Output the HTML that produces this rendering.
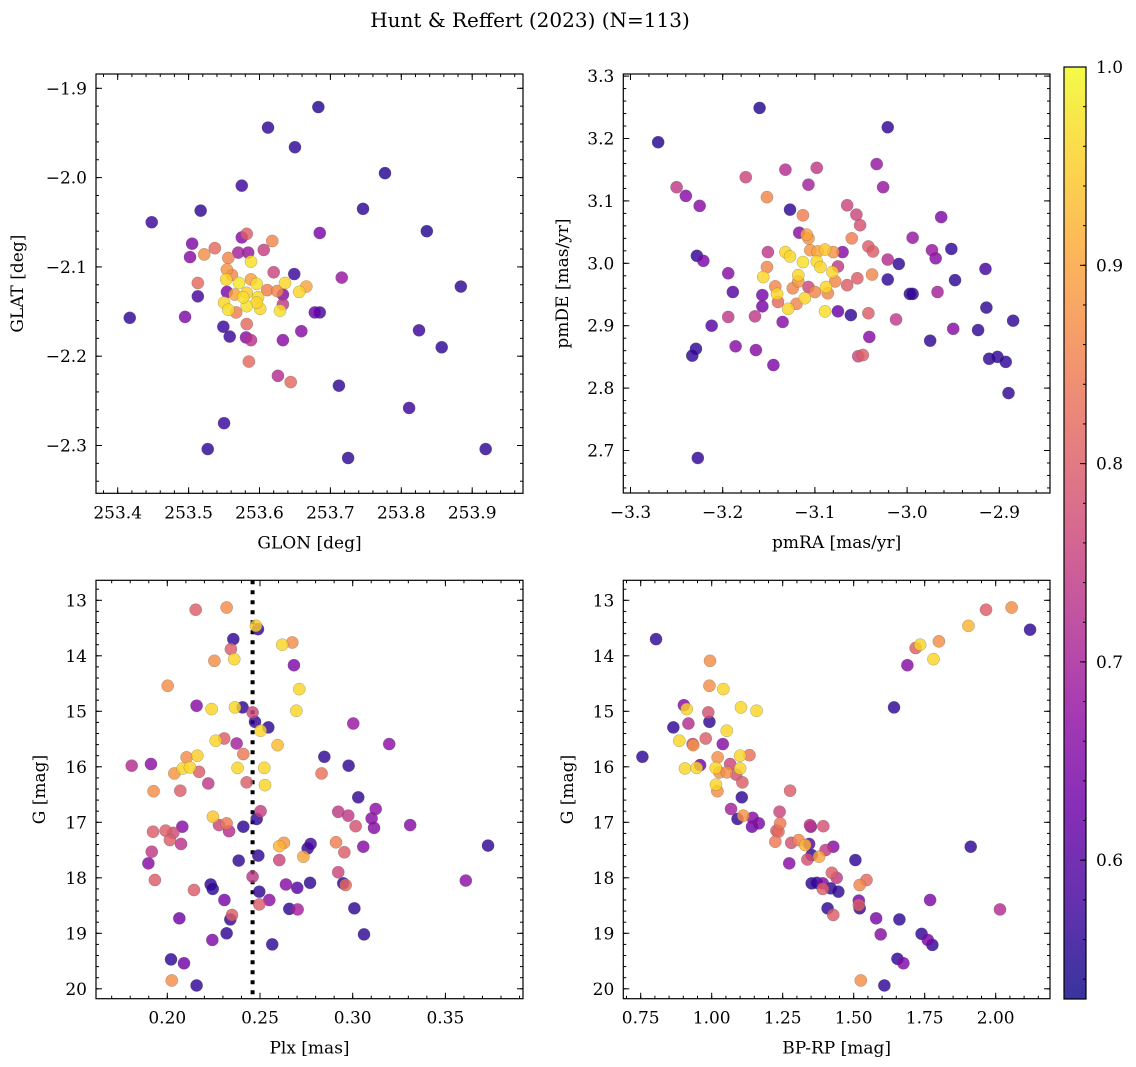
<!DOCTYPE html>
<html><head><meta charset="utf-8"><title>Hunt & Reffert (2023)</title>
<style>
html,body{margin:0;padding:0;background:#fff;}
svg{display:block;font-family:"DejaVu Serif","Liberation Serif",serif;}
</style></head>
<body>
<svg id="fig" width="1136" height="1067" viewBox="0 0 1136 1067" xmlns="http://www.w3.org/2000/svg">
<text x="530" y="27" text-anchor="middle" font-size="20">Hunt &amp; Reffert (2023) (N=113)</text>
</svg>
<script>
// ---------- Panel 1: GLON vs GLAT ----------
const p1x = [253.683,253.612,253.650,253.575,253.777,253.746,253.448,253.517,253.836,253.417,253.716,253.884,253.825,253.857,253.626,253.644,253.712,253.811,253.550,253.527,253.725,253.919,
253.505,253.502,253.522,253.537,253.575,253.582,253.618,253.606,253.584,253.570,253.556,253.588,253.620,253.649,253.554,253.553,253.571,253.596,253.588,253.561,253.636,253.666,253.656,253.625,253.611,253.582,253.565,253.598,253.554,253.633,253.633,253.629,253.601,253.582,253.556,253.550,253.567,253.685,253.678,253.513,253.513,253.495,253.549,253.558,253.582,253.581,253.588,253.633,253.659,253.585,253.577,253.596,253.685];
const p1y = [-1.921,-1.944,-1.966,-2.009,-1.995,-2.035,-2.050,-2.037,-2.060,-2.157,-2.112,-2.122,-2.171,-2.190,-2.222,-2.229,-2.233,-2.258,-2.275,-2.304,-2.314,-2.304,
-2.074,-2.089,-2.086,-2.079,-2.067,-2.063,-2.071,-2.081,-2.084,-2.084,-2.090,-2.094,-2.106,-2.108,-2.103,-2.114,-2.118,-2.119,-2.114,-2.109,-2.118,-2.122,-2.128,-2.127,-2.126,-2.129,-2.131,-2.134,-2.128,-2.131,-2.142,-2.149,-2.147,-2.144,-2.148,-2.140,-2.151,-2.151,-2.151,-2.118,-2.133,-2.156,-2.167,-2.178,-2.164,-2.179,-2.182,-2.182,-2.172,-2.206,-2.134,-2.140,-2.062];
const p1c = [0.55,0.56,0.56,0.57,0.55,0.56,0.57,0.56,0.55,0.56,0.68,0.56,0.57,0.56,0.72,0.82,0.56,0.57,0.57,0.56,0.56,0.56,
0.65,0.66,0.87,0.82,0.66,0.80,0.86,0.75,0.68,0.70,0.86,0.97,0.76,0.57,0.88,0.96,0.98,0.97,0.89,0.86,0.96,0.90,0.96,0.86,0.85,0.95,0.90,0.96,0.65,0.66,0.74,0.97,0.96,0.97,0.97,0.96,0.85,0.58,0.62,0.82,0.58,0.65,0.57,0.57,0.82,0.66,0.73,0.66,0.66,0.82,0.97,0.96,0.64];
const p1xTicks = [253.4,253.5,253.6,253.7,253.8,253.9];
const p1xTickLabels = ["253.4","253.5","253.6","253.7","253.8","253.9"];
const p1yTicks = [-1.9,-2.0,-2.1,-2.2,-2.3];
const p1yTickLabels = ["\u22121.9","\u22122.0","\u22122.1","\u22122.2","\u22122.3"];

// ---------- Panel 2: pmRA vs pmDE ----------
const p2x = [-3.270,-3.160,-3.021,-3.250,-3.240,-3.225,-3.175,-3.152,-3.228,-3.221,-3.212,-3.229,-3.233,-3.186,-3.164,-3.227,-3.145,-3.098,-3.107,-3.132,-3.033,-3.026,-2.994,-2.963,-2.973,-2.969,-2.952,-2.967,-2.948,-3.009,-2.997,-2.994,-3.012,-2.975,-2.950,-2.923,-2.915,-2.914,-2.911,-2.902,-2.893,-2.885,-2.890,-3.194,-3.189,-3.194,-3.041,-3.048,-3.053,
-3.127,-3.113,-3.065,-3.055,-3.051,-3.060,-3.042,-3.037,-3.021,-3.117,-3.109,-3.107,-3.151,-3.132,-3.127,-3.105,-3.097,-3.089,-3.080,-3.070,-3.113,-3.098,-3.094,-3.075,-3.081,-3.078,-3.152,-3.156,-3.118,-3.118,-3.143,-3.141,-3.124,-3.107,-3.100,-3.088,-3.086,-3.065,-3.054,-3.038,-3.021,-3.157,-3.157,-3.140,-3.111,-3.120,-3.129,-3.089,-3.075,-3.061,-3.042,-3.135,-3.165];
const p2y = [3.194,3.249,3.218,3.122,3.108,3.092,3.138,3.106,3.012,3.004,2.900,2.863,2.852,2.867,2.861,2.688,2.837,3.153,3.126,3.150,3.159,3.122,3.041,3.074,3.021,3.008,3.023,2.954,2.973,2.999,2.951,2.951,2.910,2.876,2.895,2.893,2.991,2.929,2.847,2.850,2.842,2.908,2.792,2.984,2.954,2.914,2.882,2.853,2.851,
3.086,3.077,3.093,3.078,3.061,3.040,3.027,3.019,3.006,3.049,3.046,3.040,3.018,3.018,3.011,3.021,3.019,3.022,3.018,3.018,3.002,3.003,2.994,2.995,2.986,2.971,2.994,2.978,2.981,2.971,2.963,2.951,2.960,2.962,2.954,2.962,2.952,2.965,2.976,2.982,2.974,2.949,2.931,2.938,2.944,2.935,2.927,2.923,2.923,2.917,2.920,2.906,2.915];
const p2c = [0.55,0.55,0.56,0.74,0.66,0.66,0.76,0.86,0.56,0.64,0.60,0.56,0.56,0.66,0.66,0.56,0.65,0.74,0.70,0.72,0.68,0.68,0.68,0.65,0.68,0.66,0.56,0.70,0.56,0.56,0.56,0.56,0.74,0.56,0.66,0.56,0.58,0.56,0.56,0.56,0.56,0.56,0.56,0.66,0.60,0.74,0.66,0.80,0.76,
0.56,0.85,0.76,0.76,0.78,0.85,0.80,0.80,0.72,0.66,0.90,0.88,0.74,0.96,0.96,0.88,0.90,0.94,0.88,0.66,0.97,0.96,0.96,0.74,0.96,0.86,0.86,0.96,0.96,0.88,0.86,0.96,0.86,0.76,0.86,0.96,0.86,0.80,0.80,0.86,0.56,0.64,0.64,0.82,0.96,0.86,0.96,0.97,0.62,0.56,0.80,0.66,0.74];
const p2xTicks = [-3.3,-3.2,-3.1,-3.0,-2.9];
const p2xTickLabels = ["\u22123.3","\u22123.2","\u22123.1","\u22123.0","\u22122.9"];
const p2yTicks = [3.3,3.2,3.1,3.0,2.9,2.8,2.7];
const p2yTickLabels = ["3.3","3.2","3.1","3.0","2.9","2.8","2.7"];

// ---------- Panel 3: Plx vs G ----------
const p3x = [0.2153,0.2320,0.2478,0.2489,0.2356,0.2343,0.2254,0.2361,0.2620,0.2674,0.2683,0.2002,0.2712,0.2158,0.2239,0.2365,0.2406,0.2460,0.2473,0.2545,0.2503,0.2696,0.3003,0.3197,0.2261,0.2307,0.2374,0.2595,0.2410,0.2104,0.2162,0.1808,0.1912,0.2038,0.2083,0.2122,0.2171,0.2379,0.2523,0.2527,0.2428,0.2221,0.1926,0.2070,0.2847,0.2978,0.2832,0.3030,0.2922,0.2976,0.3016,0.3124,0.3102,0.3115,0.2503,0.2482,0.2246,0.2279,0.2320,0.2333,0.2410,0.1923,0.1991,0.2032,0.2081,0.2014,0.2074,0.1916,0.1898,0.1933,0.2604,0.2629,0.2604,0.2491,0.2385,0.2757,0.2773,0.2734,0.2910,0.2955,0.3057,0.2922,0.2949,0.2962,0.2460,0.2496,0.2496,0.2550,0.2640,0.2701,0.2770,0.2658,0.2703,0.3009,0.3061,0.2234,0.2245,0.2144,0.2308,0.2349,0.2340,0.2320,0.2243,0.2065,0.2566,0.2020,0.2090,0.2024,0.2158,0.373,0.361,0.331];
const p3y = [13.17,13.13,13.46,13.52,13.70,13.88,14.09,14.06,13.80,13.76,14.17,14.54,14.60,14.90,14.96,14.93,14.93,15.02,15.19,15.29,15.35,14.99,15.22,15.59,15.53,15.49,15.58,15.61,15.77,15.83,15.80,15.98,15.95,16.12,16.03,16.01,16.09,16.02,16.02,16.33,16.28,16.30,16.44,16.43,15.82,15.98,16.12,16.55,16.81,16.88,17.07,16.76,16.93,17.10,16.80,16.94,16.90,17.05,17.02,17.16,17.08,17.17,17.15,17.19,17.08,17.32,17.39,17.53,17.74,18.04,17.43,17.37,17.68,17.60,17.69,17.47,17.39,17.62,17.36,17.54,17.44,17.90,18.10,18.13,17.98,18.25,18.48,18.40,18.12,18.18,18.09,18.56,18.57,18.55,19.02,18.12,18.20,18.22,18.40,18.67,18.75,19.00,19.12,18.73,19.20,19.47,19.54,19.85,19.94,17.42,18.05,17.05];
const p3c = [0.80,0.87,0.95,0.56,0.56,0.80,0.87,0.96,0.96,0.87,0.65,0.87,0.96,0.66,0.96,0.96,0.56,0.76,0.56,0.56,0.96,0.96,0.68,0.67,0.96,0.80,0.70,0.93,0.84,0.87,0.95,0.72,0.67,0.88,0.96,0.96,0.80,0.96,0.96,0.96,0.80,0.74,0.87,0.80,0.56,0.56,0.83,0.56,0.74,0.74,0.78,0.67,0.66,0.66,0.75,0.56,0.94,0.76,0.84,0.72,0.56,0.80,0.80,0.77,0.66,0.80,0.73,0.74,0.66,0.80,0.92,0.88,0.76,0.56,0.56,0.56,0.58,0.90,0.85,0.80,0.66,0.76,0.56,0.82,0.74,0.56,0.80,0.67,0.66,0.60,0.56,0.56,0.70,0.56,0.56,0.56,0.56,0.80,0.64,0.80,0.56,0.56,0.65,0.63,0.56,0.56,0.63,0.87,0.56,0.56,0.67,0.66];
const p3xTicks = [0.20,0.25,0.30,0.35];
const p3xTickLabels = ["0.20","0.25","0.30","0.35"];
const gTicks = [13,14,15,16,17,18,19,20];
const gTickLabels = ["13","14","15","16","17","18","19","20"];
const plxLine = [0.246];

// ---------- Panel 4: BP-RP vs G ----------
const p4x = [0.804,0.994,0.992,1.041,0.902,0.912,0.865,0.918,0.988,0.992,1.103,1.158,1.053,0.886,0.933,0.935,0.979,1.039,0.756,0.906,0.947,0.959,1.021,1.014,1.027,1.053,1.065,1.086,1.100,1.133,1.100,1.015,1.020,1.108,1.106,1.276,1.068,1.091,1.111,1.144,1.166,1.142,1.239,1.241,1.228,1.235,1.224,1.280,1.306,1.329,1.343,1.346,1.349,1.393,1.273,1.337,1.352,1.378,1.401,1.428,1.506,1.352,1.370,1.391,1.391,1.423,1.440,1.419,1.446,1.521,1.545,1.518,1.518,1.521,1.408,1.428,1.579,1.595,1.661,1.739,1.761,1.777,1.769,2.015,1.912,1.654,1.675,1.525,1.608,1.642,1.689,1.718,1.734,1.800,1.781,1.904,1.966,2.056,2.121];
const p4y = [13.70,14.09,14.54,14.60,14.89,14.96,15.29,15.22,15.02,15.19,14.93,14.99,15.35,15.53,15.59,15.61,15.49,15.59,15.82,16.03,16.02,15.97,15.83,16.02,16.10,16.10,15.95,16.14,15.80,15.79,16.03,16.32,16.44,16.28,16.55,16.43,16.76,16.94,16.88,16.92,17.02,17.08,16.81,17.02,17.15,17.17,17.35,17.37,17.32,17.41,17.39,17.05,17.08,17.07,17.74,17.67,17.59,17.62,17.50,17.44,17.68,18.10,18.09,18.10,18.20,17.91,18.00,18.19,18.25,18.13,18.04,18.41,18.49,18.55,18.55,18.67,18.73,19.02,18.75,19.01,19.12,19.21,18.40,18.57,17.44,19.46,19.54,19.85,19.94,14.93,14.17,13.86,13.80,13.74,14.06,13.46,13.17,13.13,13.53];
const p4c = [0.56,0.87,0.87,0.96,0.66,0.96,0.56,0.72,0.78,0.56,0.96,0.96,0.96,0.96,0.74,0.88,0.80,0.66,0.56,0.96,0.96,0.63,0.87,0.96,0.87,0.87,0.76,0.78,0.96,0.83,0.96,0.96,0.87,0.80,0.56,0.80,0.70,0.56,0.88,0.66,0.65,0.63,0.76,0.84,0.80,0.82,0.84,0.78,0.86,0.92,0.60,0.74,0.66,0.78,0.66,0.78,0.56,0.90,0.74,0.66,0.56,0.56,0.56,0.65,0.80,0.80,0.74,0.56,0.56,0.86,0.82,0.64,0.80,0.56,0.56,0.80,0.64,0.66,0.56,0.56,0.64,0.56,0.65,0.72,0.56,0.56,0.65,0.87,0.56,0.56,0.66,0.80,0.96,0.87,0.96,0.92,0.80,0.87,0.56];
const p4xTicks = [0.75,1.00,1.25,1.50,1.75,2.00];
const p4xTickLabels = ["0.75","1.00","1.25","1.50","1.75","2.00"];

// ---------- Colorbar ----------
const cbarTicks = [0.6,0.7,0.8,0.9,1.0];
const cbarTickLabels = ["0.6","0.7","0.8","0.9","1.0"];
const cMin = 0.53, cMax = 1.0;

const NS = "http://www.w3.org/2000/svg";
const svg = document.getElementById('fig');
const FS = 17;
function mk(tag, attrs, parent){
  const e = document.createElementNS(NS, tag);
  for (const k in attrs) e.setAttribute(k, attrs[k]);
  (parent||svg).appendChild(e);
  return e;
}
const plasma = [[13,8,135],[65,4,157],[106,0,168],[143,13,164],[177,42,144],[204,71,120],[225,100,98],[242,132,75],[252,166,54],[252,206,37],[240,249,33]];
function cmap(v){
  let t = (v - cMin)/(cMax - cMin); t = Math.max(0, Math.min(1, t));
  const f = t*10, i = Math.min(9, Math.floor(f)), r = f - i;
  const a = plasma[i], b = plasma[i+1];
  return 'rgb(' + [0,1,2].map(k => Math.round(a[k]+(b[k]-a[k])*r)).join(',') + ')';
}
function lin(d0,d1,r0,r1){ return v => r0 + (v-d0)/(d1-d0)*(r1-r0); }
function fmtMinor(start, end, step){ const out=[]; const n=Math.round((end-start)/step); for(let i=0;i<=n;i++) out.push(start+i*step); return out; }

function panel(cfg){
  const g = mk('g', {});
  
  
  const X = lin(cfg.xd[0], cfg.xd[1], cfg.L, cfg.R);
  const Y = lin(cfg.yd[0], cfg.yd[1], cfg.B, cfg.T);
  const cid = 'clip-' + cfg.name;
  const cp = mk('clipPath', {id: cid}, g);
  mk('rect', {x: cfg.L, y: cfg.T, width: cfg.R-cfg.L, height: cfg.B-cfg.T}, cp);
  const pts = mk('g', {'clip-path': 'url(#'+cid+')'}, g);
  
  
  if (cfg.vline) {
    cfg.vline.forEach(v => {
      const ln = mk('line', {x1: X(v), x2: X(v), y1: cfg.T, y2: cfg.B, stroke: '#000', 'stroke-width': 4, 'stroke-dasharray': '4 6'}, pts);
      
      
    });
  }
  const idx = cfg.xs.map((_, i) => i).sort((a, b) => cfg.cs[a] - cfg.cs[b]);
  idx.forEach(i => {
    const c = mk('circle', {cx: X(cfg.xs[i]).toFixed(2), cy: Y(cfg.ys[i]).toFixed(2), r: 6.1, fill: cmap(cfg.cs[i]), 'fill-opacity': 0.82, stroke: '#555', 'stroke-width': 0.4, 'stroke-opacity': 0.6}, pts);
    
    
  });
  const fr = mk('rect', {x: cfg.L, y: cfg.T, width: cfg.R-cfg.L, height: cfg.B-cfg.T, fill: 'none', stroke: '#000', 'stroke-width': 1.2}, g);
  
  
  const tk = mk('g', {stroke: '#000', 'stroke-width': 1}, g);
  cfg.xMinor.forEach(v => { const x = X(v); if (x < cfg.L-0.5 || x > cfg.R+0.5) return;
    mk('line', {x1: x, x2: x, y1: cfg.B, y2: cfg.B-3}, tk); mk('line', {x1: x, x2: x, y1: cfg.T, y2: cfg.T+3}, tk); });
  cfg.yMinor.forEach(v => { const y = Y(v); if (y < cfg.T-0.5 || y > cfg.B+0.5) return;
    mk('line', {x1: cfg.L, x2: cfg.L+3, y1: y, y2: y}, tk); mk('line', {x1: cfg.R, x2: cfg.R-3, y1: y, y2: y}, tk); });
  cfg.xTicks.forEach((v, i) => { const x = X(v);
    mk('line', {x1: x, x2: x, y1: cfg.B, y2: cfg.B-6}, tk); mk('line', {x1: x, x2: x, y1: cfg.T, y2: cfg.T+6}, tk);
    const t = mk('text', {x: x, y: cfg.B+25, 'text-anchor': 'middle', 'font-size': FS}, g);
    t.textContent = cfg.xLabels[i];
    
    
  });
  cfg.yTicks.forEach((v, i) => { const y = Y(v);
    mk('line', {x1: cfg.L, x2: cfg.L+6, y1: y, y2: y}, tk); mk('line', {x1: cfg.R, x2: cfg.R-6, y1: y, y2: y}, tk);
    const t = mk('text', {x: cfg.L-9, y: y+6, 'text-anchor': 'end', 'font-size': FS}, g);
    t.textContent = cfg.yLabels[i];
    
    
  });
  const xt = mk('text', {x: (cfg.L+cfg.R)/2, y: cfg.B+55, 'text-anchor': 'middle', 'font-size': FS}, g);
  xt.textContent = cfg.xTitle;
  
  
  const yt = mk('text', {x: 0, y: 0, 'text-anchor': 'middle', 'font-size': FS, transform: 'translate(' + cfg.yTitleX + ',' + ((cfg.T+cfg.B)/2) + ') rotate(-90)'}, g);
  yt.textContent = cfg.yTitle;
  
  
}

panel({name: 'panel-glon-glat', L: 96, R: 523, T: 74, B: 493.3,
  xd: [253.4 - 21.7/709, 253.4 + 405.3/709], yd: [-1.9 - 405/893, -1.9 + 14.3/893],
  xs: p1x, ys: p1y, cs: p1c, xTicks: p1xTicks, xLabels: p1xTickLabels, yTicks: p1yTicks, yLabels: p1yTickLabels,
  xMinor: fmtMinor(253.36, 254.0, 0.02), yMinor: fmtMinor(-2.36, -1.88, 0.02),
  xTitle: 'GLON [deg]', yTitle: 'GLAT [deg]', yTitleX: 23});

panel({name: 'panel-pmra-pmde', L: 623.3, R: 1050, T: 74, B: 493,
  xd: [-3.3 - 7.2/922, -3.3 + 419.5/922], yd: [3.0 - 229.7/624, 3.0 + 189.3/624],
  xs: p2x, ys: p2y, cs: p2c, xTicks: p2xTicks, xLabels: p2xTickLabels, yTicks: p2yTicks, yLabels: p2yTickLabels,
  xMinor: fmtMinor(-3.32, -2.84, 0.02), yMinor: fmtMinor(2.62, 3.32, 0.02),
  xTitle: 'pmRA [mas/yr]', yTitle: 'pmDE [mas/yr]', yTitleX: 568});

panel({name: 'panel-plx-g', L: 96, R: 523, T: 580.3, B: 998.7,
  xd: [0.20 - 71.3/1854, 0.20 + 355.7/1854], yd: [13 + 398.4/55.5, 13 - 20/55.5],
  xs: p3x, ys: p3y, cs: p3c, xTicks: p3xTicks, xLabels: p3xTickLabels, yTicks: gTicks, yLabels: gTickLabels,
  xMinor: fmtMinor(0.16, 0.40, 0.01), yMinor: fmtMinor(12.6, 20.2, 0.2),
  xTitle: 'Plx [mas]', yTitle: 'G [mag]', yTitleX: 45, vline: plxLine});

panel({name: 'panel-bprp-g', L: 623.3, R: 1050, T: 580.3, B: 998.7,
  xd: [0.75 - 17.4/284, 0.75 + 409.3/284], yd: [13 + 398.4/55.5, 13 - 20/55.5],
  xs: p4x, ys: p4y, cs: p4c, xTicks: p4xTicks, xLabels: p4xTickLabels, yTicks: gTicks, yLabels: gTickLabels,
  xMinor: fmtMinor(0.65, 2.2, 0.05), yMinor: fmtMinor(12.6, 20.2, 0.2),
  xTitle: 'BP-RP [mag]', yTitle: 'G [mag]', yTitleX: 573});

(function(){
  const L = 1064, R = 1086, T = 67, B = 999;
  const g = mk('g', {});
  
  
  const defs = mk('defs', {}, g);
  const lg = mk('linearGradient', {id: 'cbgrad', x1: 0, y1: 1, x2: 0, y2: 0}, defs);
  plasma.forEach((c, i) => mk('stop', {offset: (i/10), 'stop-color': 'rgb(' + c.join(',') + ')', 'stop-opacity': 0.82}, lg));
  const r = mk('rect', {x: L, y: T, width: R-L, height: B-T, fill: 'url(#cbgrad)', stroke: '#000', 'stroke-width': 1.2}, g);
  
  
  const Y = lin(cMin, cMax, B, T);
  fmtMinor(0.54, 1.0, 0.02).forEach(v => mk('line', {x1: R, x2: R-3, y1: Y(v), y2: Y(v), stroke: '#000', 'stroke-width': 1}, g));
  cbarTicks.forEach((v, i) => {
    const y = Y(v);
    mk('line', {x1: R, x2: R-6, y1: y, y2: y, stroke: '#000', 'stroke-width': 1}, g);
    const t = mk('text', {x: R+10, y: y+6, 'font-size': FS}, g);
    t.textContent = cbarTickLabels[i];
    
    
  });
})();
</script>
</body></html>
